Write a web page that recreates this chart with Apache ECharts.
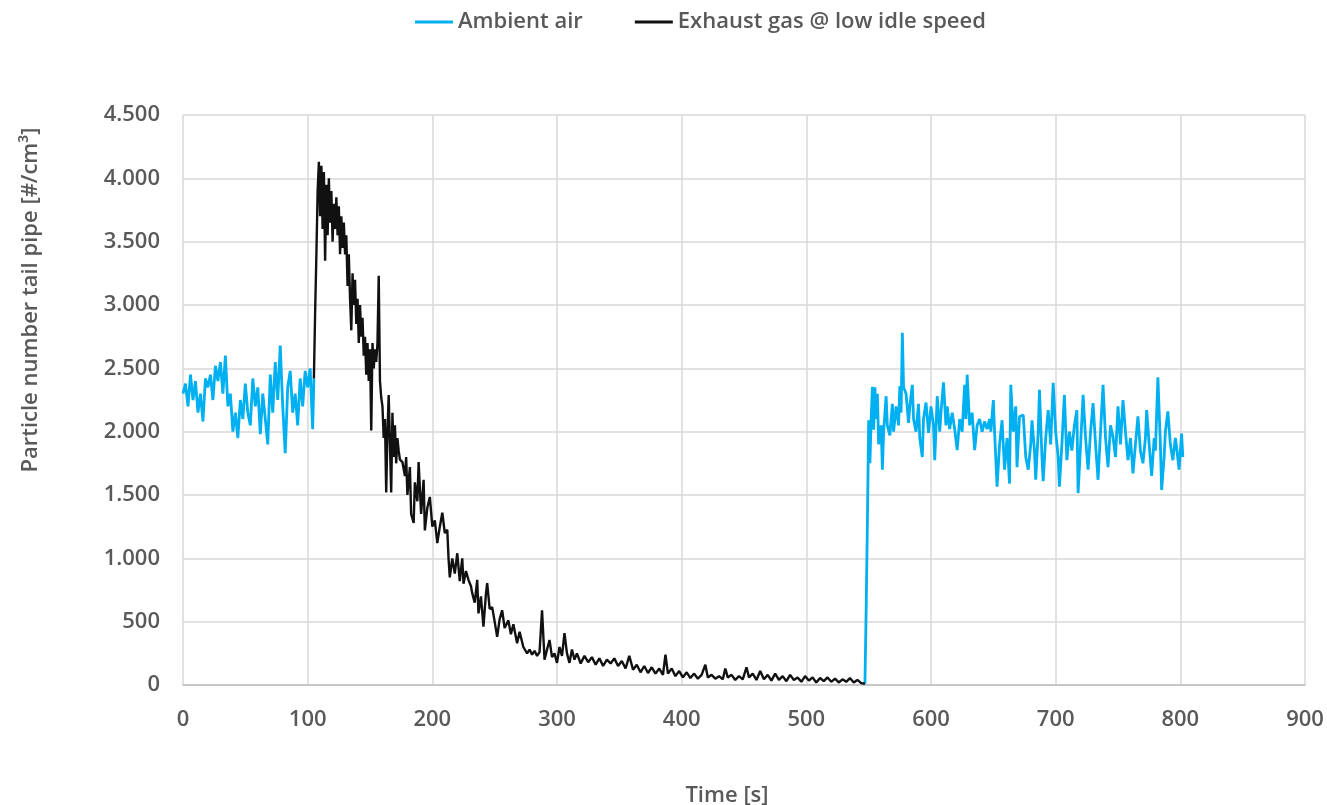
<!DOCTYPE html>
<html>
<head>
<meta charset="utf-8">
<script src="https://cdn.jsdelivr.net/npm/echarts@6/dist/echarts.min.js"></script>
<style>html,body{margin:0;padding:0;background:#fff;}#c{width:1327px;height:805px;}</style>
</head>
<body>
<div id="c"></div>
<script>
// ---- data ----
const ambient1Time = [0,2,4,6,8,10,12,14,16,18,20,22,24,26,28,30,32,34,36,38,40,42,44,46,48,50,52,54,56,58,60,62,64,66,68,70,72,74,76,78,80,82,84,86,88,90,92,94,96,98,100,102,104,105];
const ambient1Vals = [2300,2380,2200,2450,2250,2400,2150,2300,2080,2420,2350,2450,2250,2520,2400,2550,2300,2600,2200,2300,2000,2150,1950,2250,2100,2380,2150,2050,2420,2200,2350,1980,2300,2100,1900,2450,2150,2550,2250,2680,2200,1830,2350,2480,2150,2300,2050,2420,2200,2480,2350,2500,2020,2420];

const exhaustTime = [105,106,107,108,109,110,111,112,113,114,115,116,117,118,119,120,121,122,123,124,125,126,127,128,129,130,131,132,133,134,135,136,137,138,139,140,141,142,143,144,145,146,147,148,149,150,151,152,153,154,155,156,157,158,159,160,161,162,163,164,165,166,167,168,169,170,171,172,173,174,176,178,179,180,182,183,185,186,188,189,191,193,194,196,198,200,202,204,206,208,210,212,213,214,216,218,220,222,224,225,227,229,231,232,234,236,237,239,241,243,244,246,248,250,252,254,256,258,261,263,265,268,270,273,276,278,280,282,284,286,288,290,292,294,296,298,300,302,304,306,308,310,312,314,316,319,322,325,328,331,334,337,340,343,346,349,352,355,358,361,364,367,370,373,376,379,382,385,387,389,392,395,398,401,404,407,410,413,416,419,421,424,427,430,433,435,437,440,443,446,449,452,454,457,460,463,466,469,472,475,478,481,484,487,490,493,496,499,502,505,508,511,514,517,520,523,526,529,532,535,538,541,544,547];
const exhaustVals = [2420,2950,3400,3900,4130,3700,4100,3600,4050,3350,3950,3550,4000,3650,3900,3500,3800,3600,3850,3550,3780,3400,3700,3450,3650,3400,3550,3150,3400,3050,2800,3250,3000,3200,2850,3050,2700,3000,2750,2900,2600,2750,2450,2700,2400,2650,2010,2700,2500,2650,2550,2700,3230,2400,2270,2200,1950,2100,1520,2000,2290,1900,1520,2150,1800,2050,1750,1950,1850,1780,1760,1650,1800,1500,1720,1350,1280,1600,1450,1760,1350,1620,1220,1400,1485,1250,1300,1120,1250,1360,1200,1225,1000,850,1000,880,1040,820,1000,800,900,830,780,725,650,830,565,700,460,720,805,600,615,500,380,520,590,450,510,400,480,330,420,300,250,280,240,270,230,260,590,200,280,355,220,250,175,300,230,410,250,175,280,200,250,170,230,180,220,160,210,150,200,170,210,150,190,130,230,120,160,100,150,95,140,90,130,80,240,90,130,70,110,60,100,55,90,50,80,160,60,80,50,70,45,130,60,80,40,70,45,140,60,90,40,110,45,80,35,90,40,70,30,80,40,60,25,70,35,60,20,55,30,60,25,50,20,45,25,55,20,40,15,10];

const ambient2Time = [547,548,549,550,551,552,553,554,555,556,557,558,560,561,562,564,565,567,569,570,572,574,575,576,577,578,580,582,583,585,586,588,590,591,593,594,596,598,600,602,603,605,607,608,610,612,613,615,617,619,621,623,625,627,628,629,631,633,635,637,639,641,643,645,647,648,650,651,653,655,657,659,661,663,664,666,668,669,671,674,676,678,680,681,683,684,686,687,689,690,692,694,696,698,700,702,703,705,707,709,711,713,715,717,718,720,722,724,726,728,730,732,734,736,738,740,742,744,746,748,750,752,754,756,758,760,762,764,766,768,770,772,773,775,777,779,780,782,784,785,787,788,790,792,794,796,797,799,801,802];
const ambient2Vals = [10,600,1300,2090,1750,2100,2355,2015,2350,2100,2300,1900,2050,1700,2000,2280,2050,1970,2220,2000,2200,2050,2360,2150,2780,2350,2300,2070,2200,2370,2100,2000,2220,1950,1800,2100,2230,1990,2200,2050,1775,2280,2000,2150,2390,2050,2200,2020,2150,2020,1855,2100,2000,2370,2100,2450,2050,2150,1855,2050,2100,2000,2080,2020,2100,2000,2250,2000,1565,1900,2090,1700,1950,1590,2370,2000,2200,1720,2120,2130,1800,1700,1900,2090,1850,1620,2000,2330,1800,1610,1950,2170,1900,2385,2000,1800,1565,1900,2290,1775,2000,1850,2050,2170,1515,1900,2290,1950,1700,2000,2225,1900,1620,2000,2370,1950,1720,2050,1960,1800,2200,1900,2250,2000,1775,1950,1670,1900,2120,1850,1750,1950,2170,1900,1650,1950,1850,2430,1900,1540,1800,2000,2160,1900,1775,1950,1880,1700,1985,1800];

const seriesNames = ['Ambient air', 'Exhaust gas @ low idle speed'];
const xAxisTitle = 'Time [s]';
const yAxisTitle = 'Particle number tail pipe [#/cm³]';

// ---- build ----
const pairs = (t, v) => t.map((x, i) => [x, v[i]]);
const ambientData = pairs(ambient1Time, ambient1Vals).concat([[106, '-']], pairs(ambient2Time, ambient2Vals));
const exhaustData = pairs(exhaustTime, exhaustVals);

const FONT = 'Open Sans';
const TXT = '#595959';
const FS = 22;
const FW = 600;
const chart = echarts.init(document.getElementById('c'));
chart.setOption({
  animation: false,
  backgroundColor: '#ffffff',
  textStyle: { fontFamily: FONT },
  legend: {
    top: 6, left: 410,
    itemWidth: 38, itemHeight: 3, itemGap: 52,
    icon: 'rect',
    textStyle: { fontFamily: FONT, fontSize: FS, fontWeight: FW, color: TXT },
    data: seriesNames
  },
  grid: { left: 183, right: 22, top: 115, bottom: 120, outerBoundsMode: 'none', containLabel: false },
  xAxis: {
    type: 'value', min: 0, max: 900, interval: 100,
    name: xAxisTitle, nameLocation: 'middle', nameGap: 100,
    nameTextStyle: { fontFamily: FONT, fontSize: FS, fontWeight: FW, color: TXT, padding: [0, 34, 0, 0] },
    axisLine: { show: true, lineStyle: { color: '#bfbfbf', width: 1.5 } },
    axisTick: { show: false },
    axisLabel: { fontFamily: FONT, fontSize: FS, fontWeight: FW, color: TXT, margin: 24 },
    splitLine: { show: true, lineStyle: { color: '#d9d9d9', width: 1.5 } }
  },
  yAxis: {
    type: 'value', min: 0, max: 4500, interval: 500,
    axisLine: { show: false },
    axisTick: { show: false },
    axisLabel: {
      fontFamily: FONT, fontSize: FS, fontWeight: FW, color: TXT, margin: 23,
      formatter: v => String(v).replace(/\B(?=(\d{3})+(?!\d))/g, '.')
    },
    splitLine: { show: true, lineStyle: { color: '#d9d9d9', width: 1.5 } }
  },
  graphic: [{
    type: 'text', x: 31, y: 300, rotation: Math.PI / 2,
    style: { text: yAxisTitle, fontFamily: FONT, fontSize: FS, fontWeight: FW, fill: TXT, align: 'center', verticalAlign: 'middle' }
  }],
  series: [
    {
      name: seriesNames[0], type: 'line', data: ambientData,
      showSymbol: false, connectNulls: false,
      itemStyle: { color: '#00B0F0' },
      lineStyle: { color: '#00B0F0', width: 2.8 }
    },
    {
      name: seriesNames[1], type: 'line', data: exhaustData,
      showSymbol: false,
      itemStyle: { color: '#111111' },
      lineStyle: { color: '#111111', width: 2.4 }
    }
  ]
});
</script>
</body>
</html>
